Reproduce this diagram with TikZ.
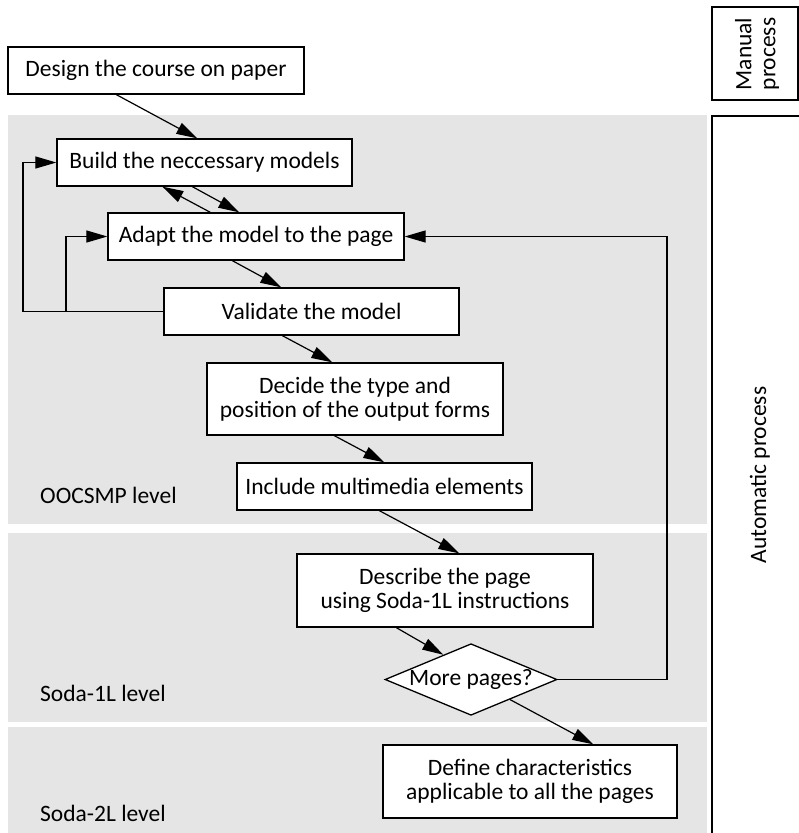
\documentclass[tikz,border=0pt]{standalone}
\usepackage{fontspec}
\setmainfont{Carlito}
\usetikzlibrary{arrows.meta,shapes.geometric,calc}
\begin{document}
\begin{tikzpicture}[x=1pt,y=-1pt,
  font=\fontsize{23.5}{24}\selectfont,
  box/.style={draw,fill=white,line width=1.3pt,inner sep=0pt,align=center},
  band/.style={fill=black!10,draw=none},
  arr/.style={-{Triangle[length=21pt,width=12pt]},line width=1.2pt},
  lvl/.style={anchor=west,inner sep=0pt}]
\useasboundingbox (0,0) rectangle (799,833);
% bands
\fill[band] (8,115) rectangle (707,524);
\fill[band] (8,533) rectangle (707,722);
\fill[band] (8,727) rectangle (707,840);
% side boxes
\node[box,minimum width=86pt,minimum height=93pt] (manual) at (755,53.5) {};
\node[rotate=90,align=center,inner sep=0pt] (manualt) at (757,54) {Manual\\process};
\draw[line width=1.3pt] (712,840) -- (712,116) -- (805,116);
\node[rotate=90,inner sep=0pt] (auto) at (760,475) {Automatic process};
% level labels
\node[lvl] (l1) at (40,495) {OOCSMP level};
\node[lvl] (l2) at (40,693) {Soda-1L level};
\node[lvl] (l3) at (40,813) {Soda-2L level};
% boxes
\node[box,minimum width=296pt,minimum height=47pt] (design) at (156,70.5) {Design the course on paper};
\node[box,minimum width=295pt,minimum height=47pt] (build) at (204.5,162.5) {Build the neccessary models};
\node[box,minimum width=296pt,minimum height=47pt] (adapt) at (256,236.5) {Adapt the model to the page};
\node[box,minimum width=295pt,minimum height=47pt] (valid) at (311.5,311.5) {Validate the model};
\node[box,minimum width=296pt,minimum height=72pt] (decide) at (355,399) {Decide the type and\\position of the output forms};
\node[box,minimum width=295pt,minimum height=47pt] (incl) at (384.5,486.5) {Include multimedia elements};
\node[box,minimum width=296pt,minimum height=73pt] (descr) at (445,590.5) {Describe the page\\using Soda-1L instructions};
\node[box,diamond,minimum width=172pt,minimum height=71pt,aspect=2.4] (dia) at (471,679.5) {More pages?};
\node[box,minimum width=294pt,minimum height=73pt] (define) at (530,781.5) {Define characteristics\\applicable to all the pages};
% connectors
\draw[arr] ($(design.south west)+(109,0)$) -- ($(build.north west)+(141,0)$);
\draw[arr] ($(build.south west)+(136,0)$) -- ($(adapt.north west)+(132,0)$);
\draw[arr] ($(adapt.north west)+(103,0)$) -- ($(build.south west)+(106,0)$);
\draw[arr] ($(adapt.south west)+(125,0)$) -- ($(valid.north west)+(118,0)$);
\draw[arr] ($(valid.south west)+(119,0)$) -- ($(decide.north west)+(126,0)$);
\draw[arr] ($(decide.south west)+(128,0)$) -- ($(incl.north west)+(148,0)$);
\draw[arr] ($(incl.south west)+(143,0)$) -- ($(descr.north west)+(163,0)$);
\draw[arr] ($(descr.south west)+(100,0)$) -- ($(dia.west)!0.68!(dia.north)$);
\draw[arr] ($(dia.south)!0.45!(dia.east)$) -- ($(define.north west)+(211,0)$);
% loops
\coordinate (lx) at (23,0);
\coordinate (bx) at (66,0);
\draw[arr] (valid.west) -- (valid.west -| lx) -- (build.west -| lx) -- (build.west);
\draw[arr] (valid.west -| bx) -- (adapt.west -| bx) -- (adapt.west);
\coordinate (fx) at (667,0);
\draw[arr] (dia.east) -- (dia.east -| fx) -- (adapt.east -| fx) -- (adapt.east);
\end{tikzpicture}
\end{document}
